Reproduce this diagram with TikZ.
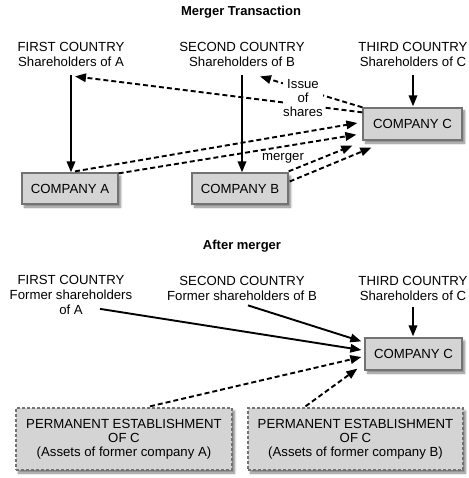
\documentclass[tikz,border=0pt]{standalone}
\usepackage{fontspec}
\setmainfont{Liberation Sans}
\usetikzlibrary{arrows.meta,shadows.blur}
\begin{document}
\begin{tikzpicture}[x=1pt,y=-1pt,
  lbl/.style={align=center,font=\fontsize{13.2}{15}\selectfont,inner sep=1pt},
  ttl/.style={font=\fontsize{13}{14}\selectfont\bfseries,inner sep=1pt},
  box/.style={draw=black!55,line width=1.3pt,fill=black!17,inner sep=0pt,
    align=center,font=\fontsize{13.2}{14}\selectfont,
    blur shadow={shadow xshift=2.5pt,shadow yshift=-3pt,shadow blur steps=8,shadow opacity=50}},
  cobox/.style={box,minimum width=96pt,minimum height=31pt},
  pebox/.style={box,dash pattern=on 3pt off 2pt,minimum height=62pt},
  flow/.style={line width=1.9pt,-{Triangle[length=11pt,width=8.5pt]}},
  dflow/.style={flow,dash pattern=on 5pt off 3pt},
]
\useasboundingbox (0,0) rectangle (468,478);

% ---------- merger transaction ----------
\node[ttl] (t1) at (241,12) {Merger Transaction};

\node[lbl] (sa) at (71,54)  {FIRST COUNTRY\\Shareholders of A};
\node[lbl] (sb) at (242,54) {SECOND COUNTRY\\Shareholders of B};
\node[lbl] (sc) at (413,54) {THIRD COUNTRY\\Shareholders of C};

\node[cobox] (ca) at (70,188.5)  {COMPANY A};
\node[cobox] (cb) at (240,188.5) {COMPANY B};
\node[cobox,minimum width=99pt,minimum height=32pt] (cc) at (412.5,124) {COMPANY C};

\draw[flow,shorten <=8pt] (sa.south) -- (sa.south |- ca.north);
\draw[flow,shorten <=8pt] (sb.south) -- (sb.south |- cb.north);
\draw[flow,shorten <=8pt,shorten >=1pt] (sc.south) -- (sc.south |- cc.north);

% shares issued by C
\draw[dflow] ([shift={(0,5)}]cc.north west) -- ([shift={(4,9)}]sa.south);
\draw[dflow] (cc.north west) -- ([shift={(18,9)}]sb.south);
\node[lbl,fill=white,inner sep=0.5pt,font=\fontsize{13.2}{14}\selectfont] (iss) at (303,98) {Issue\\of\\shares};

% merger of A and B into C
\draw[dflow] ([shift={(5,-1)}]ca.north) -- ([shift={(-5,-1)}]cc.west);
\draw[dflow] ([shift={(0,1)}]ca.north east) -- ([shift={(-6,-6)}]cc.south west);
\draw[dflow] ([shift={(0,-1)}]cb.north east) -- ([shift={(-10,5)}]cc.south west);
\draw[dflow] ([shift={(1,-7)}]cb.east) -- ([shift={(9,7)}]cc.south west);
\node[lbl] (mg) at (283,158) {merger};

% ---------- after merger ----------
\node[ttl] (t2) at (242,246) {After merger};

\node[lbl] (fa) at (71,295)  {FIRST COUNTRY\\Former shareholders\\of A};
\node[lbl] (fb) at (242,288) {SECOND COUNTRY\\Former shareholders of B};
\node[lbl] (fc) at (413,288) {THIRD COUNTRY\\Shareholders of C};

\node[cobox,minimum width=97pt,minimum height=32pt] (c2) at (413.5,354) {COMPANY C};

\node[pebox,minimum width=216pt] (pa) at (124,439)
  {PERMANENT ESTABLISHMENT\\OF C\\(Assets of former company A)};
\node[pebox,minimum width=215pt] (pb) at (355.5,439)
  {PERMANENT ESTABLISHMENT\\OF C\\(Assets of former company B)};

\draw[flow] ([shift={(29,-7)}]fa.south) -- ([shift={(-3,-4)}]c2.west);
\draw[flow] ([shift={(6,4)}]fb.south) -- ([shift={(-3,4)}]c2.north west);
\draw[flow,shorten <=6pt,shorten >=1pt] (fc.south) -- (fc.south |- c2.north);

\draw[dflow] ([shift={(26,-1)}]pa.north) -- ([shift={(-3,3)}]c2.west);
\draw[dflow] ([shift={(-50,-1)}]pb.north) -- ([shift={(-7,-2)}]c2.south west);
\end{tikzpicture}
\end{document}
